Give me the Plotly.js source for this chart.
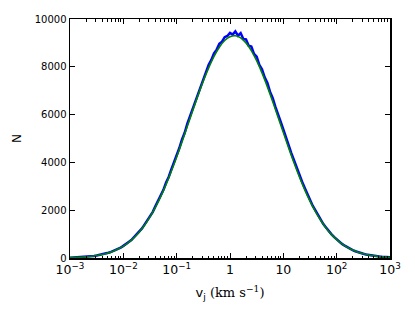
<!DOCTYPE html>
<html>
<head>
<meta charset="utf-8">
<script src="https://cdn.plot.ly/plotly-3.0.1.min.js"></script>
<style>
  html, body { margin: 0; padding: 0; background: #ffffff; }
  #chart { width: 415px; height: 315px; }
</style>
</head>
<body>
<div id="chart"></div>
<script>
// --- DATA (log10 of v_j in km/s, and counts N) ---

// Histogram bin centres (log10 v_j)
const histLogV = [
    -3.00, -2.95, -2.90, -2.85, -2.80, -2.75, -2.70, -2.65, -2.60, -2.55,
    -2.50, -2.45, -2.40, -2.35, -2.30, -2.25, -2.20, -2.15, -2.10, -2.05,
    -2.00, -1.95, -1.90, -1.85, -1.80, -1.75, -1.70, -1.65, -1.60, -1.55,
    -1.50, -1.45, -1.40, -1.35, -1.30, -1.25, -1.20, -1.15, -1.10, -1.05,
    -1.00, -0.95, -0.90, -0.85, -0.80, -0.75, -0.70, -0.65, -0.60, -0.55,
    -0.50, -0.45, -0.40, -0.35, -0.30, -0.25, -0.20, -0.15, -0.10, -0.05,
    0.00, 0.05, 0.10, 0.15, 0.20, 0.25, 0.30, 0.35, 0.40, 0.45,
    0.50, 0.55, 0.60, 0.65, 0.70, 0.75, 0.80, 0.85, 0.90, 0.95,
    1.00, 1.05, 1.10, 1.15, 1.20, 1.25, 1.30, 1.35, 1.40, 1.45,
    1.50, 1.55, 1.60, 1.65, 1.70, 1.75, 1.80, 1.85, 1.90, 1.95,
    2.00, 2.05, 2.10, 2.15, 2.20, 2.25, 2.30, 2.35, 2.40, 2.45,
    2.50, 2.55, 2.60, 2.65, 2.70, 2.75, 2.80, 2.85, 2.90, 2.95,
    3.00
];

// Histogram counts (blue)
const histCounts = [
    14, 20, 25, 30, 36, 41, 52, 60, 74, 88,
    106, 124, 150, 172, 206, 238, 284, 322, 380, 428,
    508, 574, 668, 748, 870, 968, 1110, 1240, 1405, 1560,
    1755, 1920, 2160, 2370, 2620, 2840, 3150, 3390, 3710, 3990,
    4320, 4600, 4960, 5240, 5620, 5930, 6290, 6560, 6930, 7200,
    7540, 7790, 8090, 8290, 8560, 8720, 8960, 9050, 9240, 9290,
    9420, 9350, 9480, 9300, 9410, 9160, 9150, 8880, 8850, 8540,
    8420, 8080, 7900, 7560, 7330, 6960, 6700, 6330, 6050, 5700,
    5380, 5030, 4720, 4390, 4090, 3770, 3490, 3200, 2940, 2660,
    2440, 2190, 1990, 1780, 1610, 1420, 1280, 1120, 1000, 880,
    775, 680, 590, 515, 446, 384, 330, 284, 242, 208,
    176, 150, 126, 106, 88, 74, 62, 50, 42, 34,
    28
];

// Fitted curve sample points (log10 v_j)
const fitLogV = [
    -3.0, -2.9, -2.8, -2.7, -2.6, -2.5, -2.4, -2.3, -2.2, -2.1,
    -2.0, -1.9, -1.8, -1.7, -1.6, -1.5, -1.4, -1.3, -1.2, -1.1,
    -1.0, -0.9, -0.8, -0.7, -0.6, -0.5, -0.4, -0.3, -0.2, -0.1,
    0.0, 0.1, 0.2, 0.3, 0.4, 0.5, 0.6, 0.7, 0.8, 0.9,
    1.0, 1.1, 1.2, 1.3, 1.4, 1.5, 1.6, 1.7, 1.8, 1.9,
    2.0, 2.1, 2.2, 2.3, 2.4, 2.5, 2.6, 2.7, 2.8, 2.9,
    3.0
];

// Fitted curve values (green)
const fitCounts = [
    15, 23, 34, 50, 72, 103, 146, 202, 276, 374,
    499, 656, 853, 1092, 1380, 1720, 2115, 2566, 3072, 3629,
    4227, 4859, 5508, 6166, 6804, 7411, 7957, 8435, 8820, 9099,
    9260, 9297, 9210, 9001, 8678, 8255, 7746, 7171, 6550, 5903,
    5247, 4603, 3982, 3400, 2863, 2379, 1950, 1577, 1259, 990,
    769, 589, 445, 332, 244, 177, 127, 90, 63, 43,
    29
];

const toLinear = arr => arr.map(e => Math.pow(10, e));

// --- CHART ---
const histTrace = {
    x: toLinear(histLogV),
    y: histCounts,
    mode: 'lines',
    type: 'scatter',
    line: { color: '#0000ff', width: 2.5, shape: 'linear' },
    hoverinfo: 'skip'
};

const fitTrace = {
    x: toLinear(fitLogV),
    y: fitCounts,
    mode: 'lines',
    type: 'scatter',
    line: { color: '#008000', width: 1.6, shape: 'spline', smoothing: 1 },
    hoverinfo: 'skip'
};

const axisCommon = {
    showline: true,
    linecolor: '#000000',
    linewidth: 1.5,
    mirror: 'allticks',
    ticks: 'inside',
    tickcolor: '#000000',
    tickwidth: 1,
    ticklen: 5,
    showgrid: false,
    zeroline: false,
    tickfont: { family: 'DejaVu Sans', size: 10, color: '#000000' }
};

const layout = {
    width: 415,
    height: 315,
    showlegend: false,
    margin: { l: 70, r: 25, t: 19, b: 57 },
    paper_bgcolor: '#ffffff',
    plot_bgcolor: '#ffffff',
    xaxis: Object.assign({}, axisCommon, {
        type: 'log',
        range: [-3, 3],
        dtick: 1,
        exponentformat: 'power',
        minor: { ticks: 'inside', ticklen: 2.5, tickcolor: '#000000', dtick: 'D1', showgrid: false },
        title: {
            text: 'v<sub>j</sub> <span style="font-family:DejaVu Serif">(km s<sup>−1</sup>)</span>',
            font: { family: 'DejaVu Sans', size: 13, color: '#000000' },
            standoff: 12
        }
    }),
    yaxis: Object.assign({}, axisCommon, {
        range: [0, 10000],
        dtick: 2000,
        tickformat: 'd',
        title: {
            text: 'N',
            font: { family: 'DejaVu Sans', size: 12, color: '#000000' },
            standoff: 10
        }
    })
};

Plotly.newPlot('chart', [histTrace, fitTrace], layout, { displayModeBar: false, staticPlot: true });
</script>
</body>
</html>
